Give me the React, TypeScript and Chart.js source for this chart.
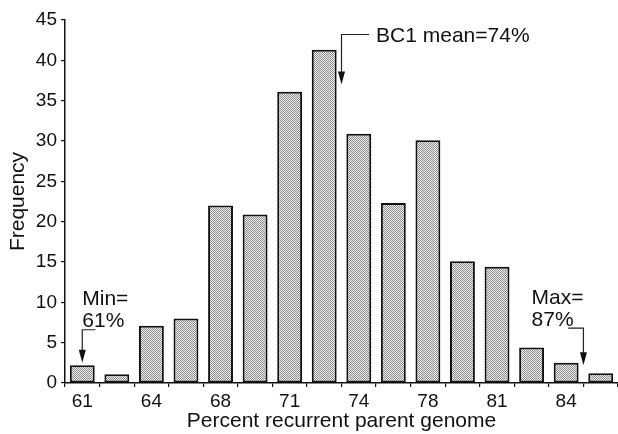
import React, { useEffect, useRef } from "react";
import { Chart, registerables } from "chart.js";

Chart.register(...registerables);

// ---- data ----
const categories = ["61", "", "64", "", "68", "", "71", "", "74", "", "78", "", "81", "", "84", ""];
const frequency = [2.2, 1.1, 7.1, 8, 22, 20.9, 36.1, 41.3, 30.9, 22.3, 30.1, 15.1, 14.4, 4.4, 2.5, 1.2];
const yMin = 0;
const yMax = 45;
const yStep = 5;
const xTitle = "Percent recurrent parent genome";
const yTitle = "Frequency";

// annotations (x in category index units, y in frequency units)
const meanText = ["BC1 mean=74%"];
const meanTextPos = [8.5, 42.3];
const meanArrow = [8.3, 43.2, 7.5, 37.0]; // xStart, yLine, xVertical, yTip
const minText = ["Min=", "61%"];
const minTextPos = [0.0, 9.7, 7.0];
const minArrow = [0.38, 6.6, 0.0, 2.5];
const maxText = ["Max=", "87%"];
const maxTextPos = [13.0, 9.8, 7.1];
const maxArrow = [14.06, 6.8, 14.5, 2.2];

const FONT = "'Liberation Sans', Arial, Helvetica, sans-serif";
const INK = "#111";

function makePattern(): CanvasPattern | string {
  const c = document.createElement("canvas");
  c.width = 2;
  c.height = 2;
  const g = c.getContext("2d");
  if (!g) return "#c4c4c4";
  g.fillStyle = "#f2f2f2";
  g.fillRect(0, 0, 2, 2);
  g.fillStyle = "#8a8a8a";
  g.fillRect(0, 0, 1, 1);
  g.fillRect(1, 1, 1, 1);
  const p = g.createPattern(c, "repeat");
  return p || "#c4c4c4";
}

const annotationPlugin = {
  id: "annotations",
  afterDraw(chart: any) {
    const ctx = chart.ctx as CanvasRenderingContext2D;
    const xs = chart.scales.x;
    const ys = chart.scales.y;
    const px = (v: number) => xs.getPixelForValue(v);
    const py = (v: number) => ys.getPixelForValue(v);
    ctx.save();
    ctx.strokeStyle = "#222";
    ctx.fillStyle = INK;
    ctx.lineWidth = 1.2;

    const arrow = (a: number[]) => {
      const x0 = px(a[0]);
      const yl = py(a[1]);
      const xv = px(a[2]);
      const tip = py(a[3]);
      const head = 13;
      const hw = 3.5;
      ctx.beginPath();
      ctx.moveTo(x0, yl);
      ctx.lineTo(xv, yl);
      ctx.lineTo(xv, tip - head + 1);
      ctx.stroke();
      ctx.beginPath();
      ctx.moveTo(xv - hw, tip - head);
      ctx.lineTo(xv + hw, tip - head);
      ctx.lineTo(xv, tip);
      ctx.closePath();
      ctx.fill();
    };
    arrow(meanArrow);
    arrow(minArrow);
    arrow(maxArrow);

    ctx.font = `21px ${FONT}`;
    ctx.textAlign = "left";
    ctx.textBaseline = "alphabetic";
    const text = (lines: string[], pos: number[]) => {
      lines.forEach((t, i) => ctx.fillText(t, px(pos[0]), py(pos[i + 1])));
    };
    text(meanText, meanTextPos);
    text(minText, minTextPos);
    text(maxText, maxTextPos);
    ctx.restore();
  },
};

export default function App() {
  const ref = useRef<HTMLCanvasElement>(null);

  useEffect(() => {
    if (!ref.current) return;
    const chart = new Chart(ref.current, {
      type: "bar",
      data: {
        labels: categories,
        datasets: [
          {
            data: frequency,
            backgroundColor: makePattern() as any,
            borderColor: INK,
            borderWidth: 2,
            borderSkipped: false,
            categoryPercentage: 1,
            barPercentage: 0.72,
          },
        ],
      },
      options: {
        responsive: false,
        animation: false,
        layout: { padding: { top: 20, left: 0, right: 0, bottom: 0 } },
        plugins: {
          legend: { display: false },
          tooltip: { enabled: false },
        },
        scales: {
          x: {
            type: "category",
            offset: true,
            grid: {
              offset: true,
              drawOnChartArea: false,
              drawTicks: true,
              tickLength: 4,
              color: INK,
              lineWidth: 1.2,
            },
            border: { display: true, color: INK, width: 1.5 },
            ticks: {
              autoSkip: false,
              maxRotation: 0,
              minRotation: 0,
              padding: 3,
              color: INK,
              font: { family: FONT, size: 19 },
            },
            title: {
              display: true,
              text: xTitle,
              color: INK,
              font: { family: FONT, size: 21, lineHeight: 1 },
              padding: { top: 0, bottom: 2 },
            },
            afterFit: (s: any) => {
              s.height = 51;
            },
          },
          y: {
            min: yMin,
            max: yMax,
            grid: {
              drawOnChartArea: false,
              drawTicks: true,
              tickLength: 4,
              color: INK,
              lineWidth: 1.2,
            },
            border: { display: true, color: INK, width: 1.5 },
            ticks: {
              stepSize: yStep,
              padding: 4,
              color: INK,
              font: { family: FONT, size: 19 },
            },
            title: {
              display: true,
              text: yTitle,
              color: INK,
              font: { family: FONT, size: 21, lineHeight: 1 },
              padding: { top: 8, bottom: 0 },
            },
            afterFit: (s: any) => {
              s.width = 65;
            },
          },
        },
      },
      plugins: [annotationPlugin],
    });
    return () => chart.destroy();
  }, []);

  return (
    <div style={{ position: "fixed", left: 0, top: 0, width: 618, height: 434, background: "#fff" }}>
      <canvas ref={ref} width={618} height={434} style={{ display: "block" }} />
    </div>
  );
}
